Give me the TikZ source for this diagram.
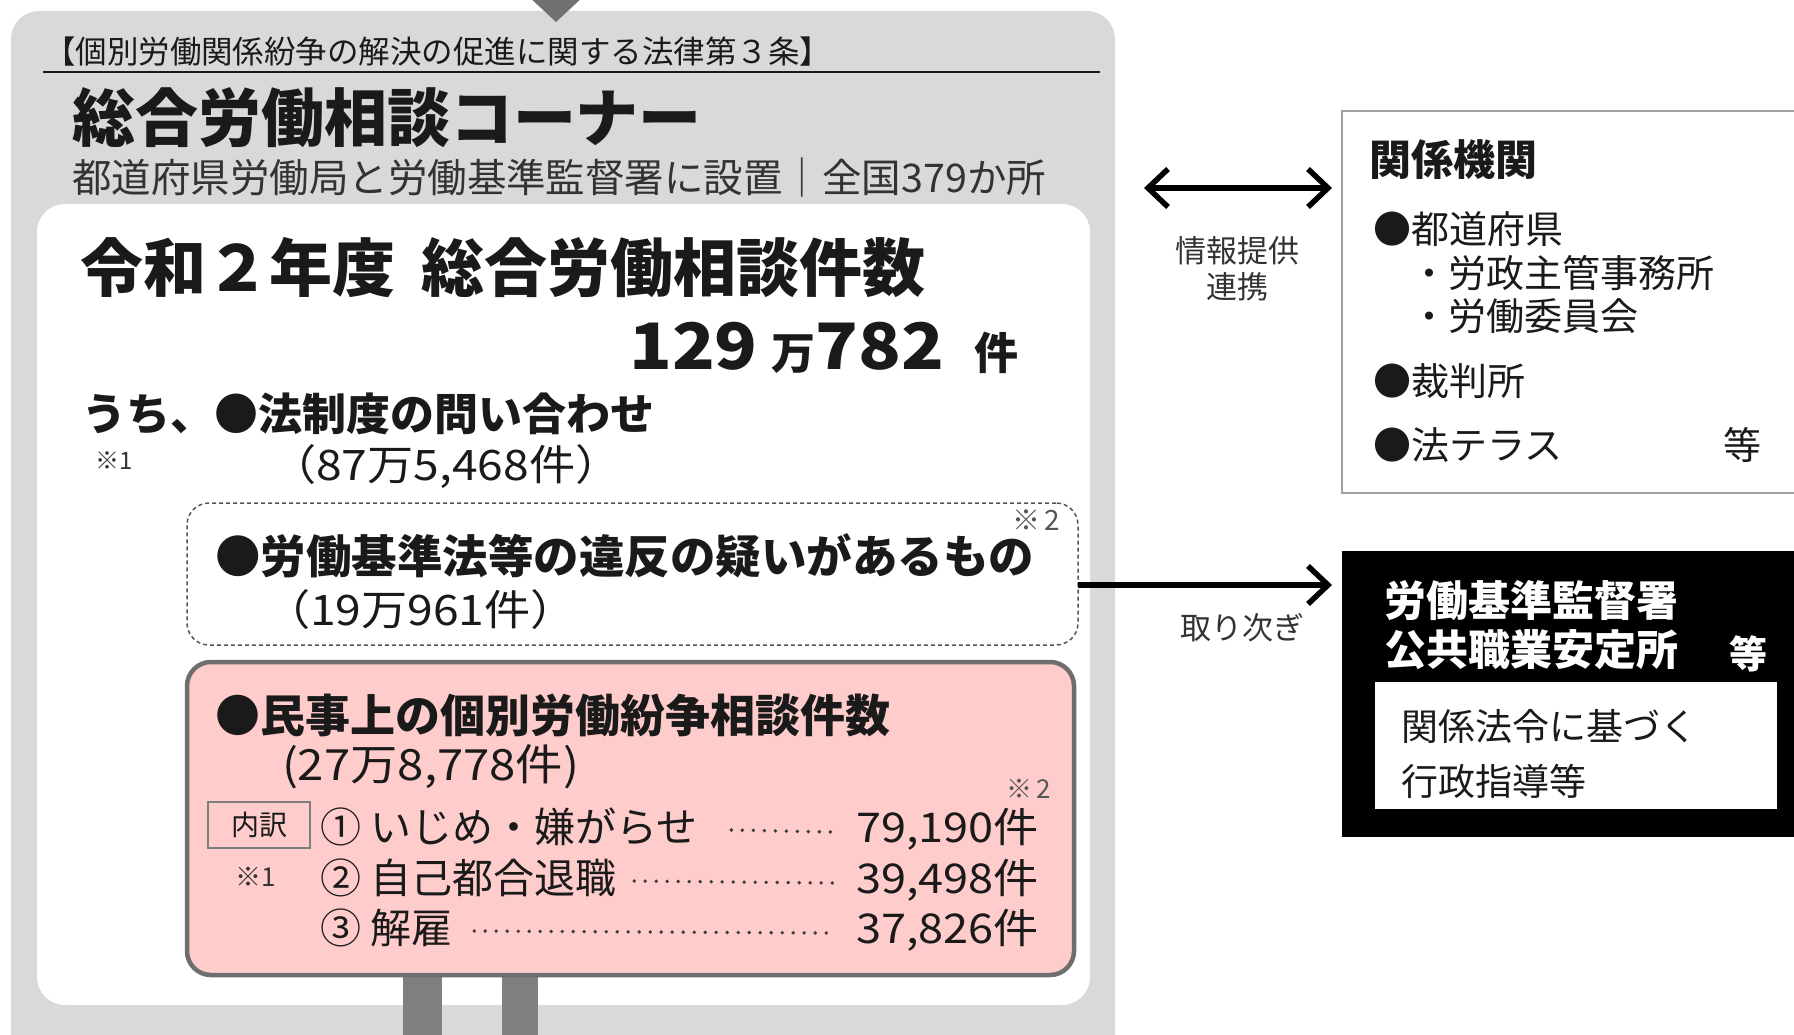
\documentclass[tikz,border=0pt]{standalone}
\usepackage{fontspec}
\usepackage{graphicx}
\setmainfont{Noto Sans CJK JP}
\usetikzlibrary{arrows.meta,calc}
\definecolor{outergray}{HTML}{D9D9D9}
\definecolor{trigray}{HTML}{707070}
\definecolor{pinkfill}{HTML}{FFCCCC}
\definecolor{pinkline}{HTML}{6E6E6E}
\definecolor{bargray}{HTML}{7F7F7F}
\definecolor{txt}{HTML}{1A1A1A}
\definecolor{subtxt}{HTML}{333333}
\definecolor{kikanline}{HTML}{A0A0A0}
\definecolor{dashgray}{HTML}{555555}
\newcommand{\fsz}[1]{\fontsize{#1}{#1}\selectfont}
\newcommand{\wide}[1]{\scalebox{1.1}[1]{#1}}
\tikzset{
  panel/.style={rectangle, inner sep=0pt, outer sep=0pt},
  lbl/.style={inner sep=0pt, outer sep=0pt, anchor=west, text=txt},
  conn/.style={line width=5.5pt, draw=black},
  leader/.style={line width=3.8pt, line cap=round, dash pattern=on 0pt off 11pt, draw=txt!85}
}
\begin{document}
\begin{tikzpicture}[x=1pt,y=-1pt]
\useasboundingbox (0,0) rectangle (1794,1035);
\clip (0,0) rectangle (1794,1035);
% outer gray panel
\node[panel, fill=outergray, rounded corners=28pt, minimum width=1104pt, minimum height=1080pt] (outer) at (563,551) {};
\fill[trigray] (527,-5) -- (585,-5) -- (556,22) -- cycle;
\node[lbl, font=\fsz{31.5}] (law) at (44,52) {【個別労働関係紛争の解決の促進に関する法律第３条】};
\draw[line width=2pt, txt] (43,72) -- (1100,72);
\node[lbl, font=\fsz{63}\bfseries] (corner) at (72,118) {総合労働相談コーナー};
\node[lbl, font=\fsz{39.5}, text=subtxt] (place) at (72,177) {都道府県労働局と労働基準監督署に設置｜全国379か所};
% inner white panel
\node[panel, fill=white, rounded corners=28pt, minimum width=1053pt, minimum height=801pt] (inner) at (563.5,604.5) {};
\node[lbl, font=\fsz{63}\bfseries] (year) at (80,268) {令和２年度};
\node[lbl, font=\fsz{63}\bfseries] (total) at (421,268) {総合労働相談件数};
\node[inner sep=0pt, anchor=base west, font=\bfseries, text=txt] (count) at (629,369) {\fsz{64}\wide{129}\hspace{14pt}\fsz{44}万\fsz{64}\wide{782}\hspace{30pt}\fsz{44}件};
\node[lbl, font=\fsz{44}\bfseries] (uchi) at (82,414) {うち、●法制度の問い合わせ};
\node[lbl, font=\fsz{24}, text=subtxt] (n1a) at (95,461) {※1};
\node[lbl, font=\fsz{42}] (law1) at (270,467) {\wide{（87万5,468件）}};
% dashed box
\node[panel, draw=dashgray, line width=1.5pt, dash pattern=on 4pt off 3pt, rounded corners=22pt, minimum width=891pt, minimum height=142pt] (dash) at (632.5,574) {};
\node[lbl, font=\fsz{28}, text=dashgray] (n2a) at (1012,520) {※\,2};
\node[lbl, font=\fsz{45.5}\bfseries] (viol) at (215,556) {●労働基準法等の違反の疑いがあるもの};
\node[lbl, font=\fsz{42}] (viol1) at (264,610) {\wide{（19万961件）}};
% bars and pink box
\fill[bargray] (403,960) rectangle (442,1040);
\fill[bargray] (502,960) rectangle (538,1040);
\node[panel, fill=pinkfill, draw=pinkline, line width=4.5pt, rounded corners=24pt, minimum width=887pt, minimum height=313pt] (pink) at (630.5,818.5) {};
\node[lbl, font=\fsz{45}\bfseries] (civil) at (215,715) {●民事上の個別労働紛争相談件数};
\node[lbl, font=\fsz{43}] (civil1) at (282,767) {\wide{(27万8,778件)}};
\node[lbl, font=\fsz{26}, text=dashgray] (n2b) at (1006,789) {※\,2};
\node[panel, draw=bargray, line width=1.5pt, minimum width=102pt, minimum height=46pt, font=\fsz{28}, text=txt] (uchiwake) at (259,825) {内訳};
\node[lbl, font=\fsz{26}, text=subtxt] (n1b) at (235,877) {※1};
\node[lbl, font=\fsz{41}] (r1t) at (320,827) {① いじめ・嫌がらせ};
\node[lbl, font=\fsz{41}] (r2t) at (320,878) {② 自己都合退職};
\node[lbl, font=\fsz{41}] (r3t) at (320,928) {③ 解雇};
\node[lbl, anchor=east, font=\fsz{41}] (r1n) at (1039,829) {\wide{79,190件}};
\node[lbl, anchor=east, font=\fsz{41}] (r2n) at (1039,880) {\wide{39,498件}};
\node[lbl, anchor=east, font=\fsz{41}] (r3n) at (1039,930) {\wide{37,826件}};
\draw[leader] ($(r1t.east)+(34,3)$) -- ($(r1n.west)+(-24,3)$);
\draw[leader] ($(r2t.east)+(18,3)$) -- ($(r2n.west)+(-24,3)$);
\draw[leader] ($(r3t.east)+(22,3)$) -- ($(r3n.west)+(-24,3)$);
% right side boxes
\node[panel, fill=white, draw=kikanline, line width=2pt, minimum width=470pt, minimum height=382pt] (kikan) at (1577,302) {};
\node[lbl, font=\fsz{42}\bfseries] (kikant) at (1369,160) {関係機関};
\node[lbl, font=\fsz{38}] (k1) at (1373,229) {●都道府県};
\node[lbl, font=\fsz{38}] (k2) at (1410,273) {・労政主管事務所};
\node[lbl, font=\fsz{38}] (k3) at (1410,316) {・労働委員会};
\node[lbl, font=\fsz{38}] (k4) at (1373,381) {●裁判所};
\node[lbl, font=\fsz{38}] (k5) at (1373,445) {●法テラス};
\node[lbl, font=\fsz{38}] (k6) at (1723,445) {等};
\node[panel, fill=black, minimum width=470pt, minimum height=286pt] (blk) at (1577,693.5) {};
\node[lbl, font=\fsz{42}\bfseries, text=white] (b1) at (1384,601) {労働基準監督署};
\node[lbl, font=\fsz{42}\bfseries, text=white] (b2) at (1384,650) {公共職業安定所};
\node[lbl, font=\fsz{38}\bfseries, text=white] (b3) at (1729,654) {等};
\node[panel, fill=white, minimum width=402pt, minimum height=127pt] (act) at (1576,745.5) {};
\node[lbl, font=\fsz{37}] (a1) at (1401,726) {関係法令に基づく};
\node[lbl, font=\fsz{37}] (a2) at (1401,781) {行政指導等};
% connectors
\coordinate (yA) at (0,188);
\coordinate (yB) at (0,585);
\draw[conn, {Straight Barb[length=20pt,width=38pt]}-{Straight Barb[length=20pt,width=38pt]}] ($(outer.east |- yA)+(29,0)$) -- ($(kikan.west |- yA)+(-10,0)$);
\draw[conn, -{Straight Barb[length=20pt,width=38pt]}] (dash.east |- yB) -- ($(blk.west |- yB)+(-10,0)$);
\node[inner sep=0pt, font=\fsz{31}, text=subtxt] (info1) at (1237,251) {情報提供};
\node[inner sep=0pt, font=\fsz{31}, text=subtxt] (info2) at (1237,287) {連携};
\node[inner sep=0pt, font=\fsz{31}, text=subtxt] (relay) at (1242,628) {取り次ぎ};
\end{tikzpicture}
\end{document}
